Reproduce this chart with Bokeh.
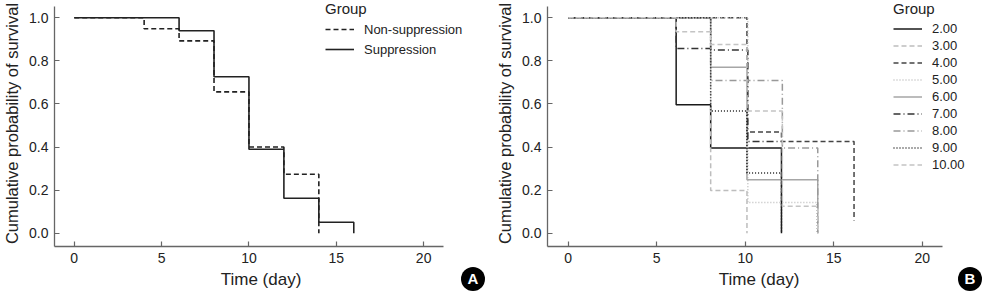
from bokeh.plotting import figure
from bokeh.models import (Range1d, FixedTicker, Legend, LegendItem, LinearAxis,
                          NumeralTickFormatter, Div)
from bokeh.layouts import row
from bokeh.embed import file_html
from bokeh.resources import INLINE

# ---------------- data ----------------
x_ticks = [0, 5, 10, 15, 20]
y_ticks = [0.0, 0.2, 0.4, 0.6, 0.8, 1.0]
x_title = "Time (day)"
y_title = "Cumulative probability of survival"
legend_title = "Group"
panel_letters = ["A", "B"]

# Panel A (Kaplan-Meier, two groups)
a_labels = ["Non-suppression", "Suppression"]
a_nonsup_time = [0, 4, 6, 8, 10, 12, 14]
a_nonsup_surv = [1.0, 0.949, 0.893, 0.656, 0.400, 0.274, 0.0]
a_sup_time = [0, 6, 8, 10, 12, 14, 16]
a_sup_surv = [1.0, 0.940, 0.726, 0.390, 0.162, 0.051, 0.0]

# Panel B (Kaplan-Meier, nine groups)
b_labels = ["2.00", "3.00", "4.00", "5.00", "6.00", "7.00", "8.00", "9.00", "10.00"]
b_g2_time = [0, 6.1, 8.05, 12.05]
b_g2_surv = [1.0, 0.596, 0.396, 0.0]
b_g3_time = [0, 8.05, 10.1]
b_g3_surv = [1.0, 0.198, 0.0]
b_g4_time = [0, 10.1, 12.05, 16.15]
b_g4_surv = [1.0, 0.470, 0.426, 0.059]
b_g5_time = [0, 10.15, 14.05]
b_g5_surv = [1.0, 0.142, 0.0]
b_g6_time = [0, 8.05, 10.1, 14.1]
b_g6_surv = [1.0, 0.771, 0.248, 0.0]
b_g7_time = [0, 6.1, 8.05, 10.15, 12.1]
b_g7_surv = [1.0, 0.857, 0.850, 0.426, 0.426]
b_g8_time = [0, 8.05, 12.1, 14.1]
b_g8_surv = [1.0, 0.709, 0.396, 0.0]
b_g9_time = [0, 8.05, 10.1, 12.05]
b_g9_surv = [1.0, 0.567, 0.280, 0.0]
b_g10_time = [0, 6.1, 8.05, 10.1, 12.1, 14.1]
b_g10_surv = [1.0, 0.935, 0.876, 0.567, 0.125, 0.0]

# ---------------- styles ----------------
FONT = "Liberation Sans"
TXT = "#222222"
AXC = "#666666"

a_styles = [dict(color="#222222", dash="5 3"), dict(color="#222222", dash="solid")]
b_styles = [
    dict(color="#1a1a1a", dash="solid"),
    dict(color="#bdbdbd", dash="5 3"),
    dict(color="#444444", dash="5 3"),
    dict(color="#bdbdbd", dash="1 2"),
    dict(color="#a6a6a6", dash="solid"),
    dict(color="#333333", dash="7 3 1 3"),
    dict(color="#999999", dash="7 3 1 3"),
    dict(color="#222222", dash="1 2"),
    dict(color="#c4c4c4", dash="5 3"),
]

Y0, Y1 = -0.0617, 1.0803      # frame spans full height above the x axis
Y_AXIS_END = 1.0525           # y axis line stops here


def make_panel(width, b_left, b_right, x0, x1, x_axis_end):
    p = figure(width=width, height=293, output_backend="svg", toolbar_location=None,
               x_range=Range1d(x0, x1), y_range=Range1d(Y0, Y1),
               min_border_left=b_left, min_border_right=b_right,
               min_border_top=0, min_border_bottom=47)
    p.outline_line_color = None
    p.xgrid.visible = False
    p.ygrid.visible = False
    p.background_fill_color = "white"
    p.border_fill_color = "white"
    for ax in (p.xaxis[0], p.yaxis[0]):
        ax.axis_line_color = AXC
        ax.axis_line_width = 1.3
        ax.major_tick_line_color = AXC
        ax.major_tick_line_width = 1.2
        ax.major_tick_in = 5
        ax.major_tick_out = 0
        ax.minor_tick_line_color = None
        ax.major_label_text_font = FONT
        ax.major_label_text_font_size = "14px"
        ax.major_label_text_color = TXT
        ax.major_label_standoff = 6
    p.xaxis[0].ticker = FixedTicker(ticks=x_ticks)
    p.xaxis[0].bounds = (x0, x_axis_end)
    p.yaxis[0].ticker = FixedTicker(ticks=y_ticks)
    p.yaxis[0].bounds = (Y0, Y_AXIS_END)
    p.yaxis[0].formatter = NumeralTickFormatter(format="0.0")
    p.yaxis[0].axis_label = y_title
    p.yaxis[0].axis_label_text_font = FONT
    p.yaxis[0].axis_label_text_font_size = "16.5px"
    p.yaxis[0].axis_label_text_font_style = "normal"
    p.yaxis[0].axis_label_text_color = TXT
    p.yaxis[0].axis_label_standoff = 5
    # second below-axis carries only the x title
    xt = LinearAxis(ticker=FixedTicker(ticks=[]), axis_line_color=None,
                    major_tick_line_color=None, minor_tick_line_color=None,
                    axis_label=x_title,
                    axis_label_text_font=FONT, axis_label_text_font_size="17px",
                    axis_label_text_font_style="normal", axis_label_text_color=TXT,
                    axis_label_standoff=4)
    p.add_layout(xt, "below")
    return p


def add_legend(p, items, loc, label_h, spacing):
    lg = Legend(items=items, location=loc, title=legend_title,
                title_text_font=FONT, title_text_font_size="15px",
                title_text_font_style="normal", title_text_color=TXT,
                title_standoff=4,
                label_text_font=FONT, label_text_font_size="13px",
                label_text_color=TXT, label_standoff=10,
                label_height=label_h, glyph_height=label_h, glyph_width=29,
                spacing=spacing, padding=0, margin=0,
                border_line_color=None, background_fill_alpha=0)
    p.add_layout(lg)


def badge(letter, margin):
    return Div(text=letter, width=24, height=24, margin=margin,
               styles={"background-color": "black", "color": "white",
                       "border-radius": "50%", "text-align": "center",
                       "line-height": "24px", "font-family": FONT,
                       "font-weight": "bold", "font-size": "15px",
                       "overflow": "hidden"})


# ---------------- panel A ----------------
pa = make_panel(490, 49, 23, -1.131, 22.51, 21.15)
a_series = [(a_nonsup_time, a_nonsup_surv), (a_sup_time, a_sup_surv)]
a_items = []
for (t, s), lab, st in zip(a_series, a_labels, a_styles):
    r = pa.step(t, s, mode="after", line_color=st["color"], line_dash=st["dash"],
                line_width=1.6)
    a_items.append(LegendItem(label=lab, renderers=[r]))
add_legend(pa, a_items, (271, 189), 16, 4)

# ---------------- panel B ----------------
pb = make_panel(494, 57, 14, -1.169, 22.73, 21.16)
b_series = [(b_g2_time, b_g2_surv), (b_g3_time, b_g3_surv), (b_g4_time, b_g4_surv),
            (b_g5_time, b_g5_surv), (b_g6_time, b_g6_surv), (b_g7_time, b_g7_surv),
            (b_g8_time, b_g8_surv), (b_g9_time, b_g9_surv), (b_g10_time, b_g10_surv)]
b_items = []
for (t, s), lab, st in zip(b_series, b_labels, b_styles):
    r = pb.step(t, s, mode="after", line_color=st["color"], line_dash=st["dash"],
                line_width=1.5)
    b_items.append(LegendItem(label=lab, renderers=[r]))
add_legend(pb, b_items, (346, 74), 15, 2)

# panel letters, overlapping the bottom-right corners via negative left margins
ba = badge(panel_letters[0], (267, 5, 0, -29))
bb = badge(panel_letters[1], (267, 0, 0, -26))

layout = row(pa, ba, pb, bb, spacing=0)
open("out.html", "w").write(file_html(layout, INLINE))
